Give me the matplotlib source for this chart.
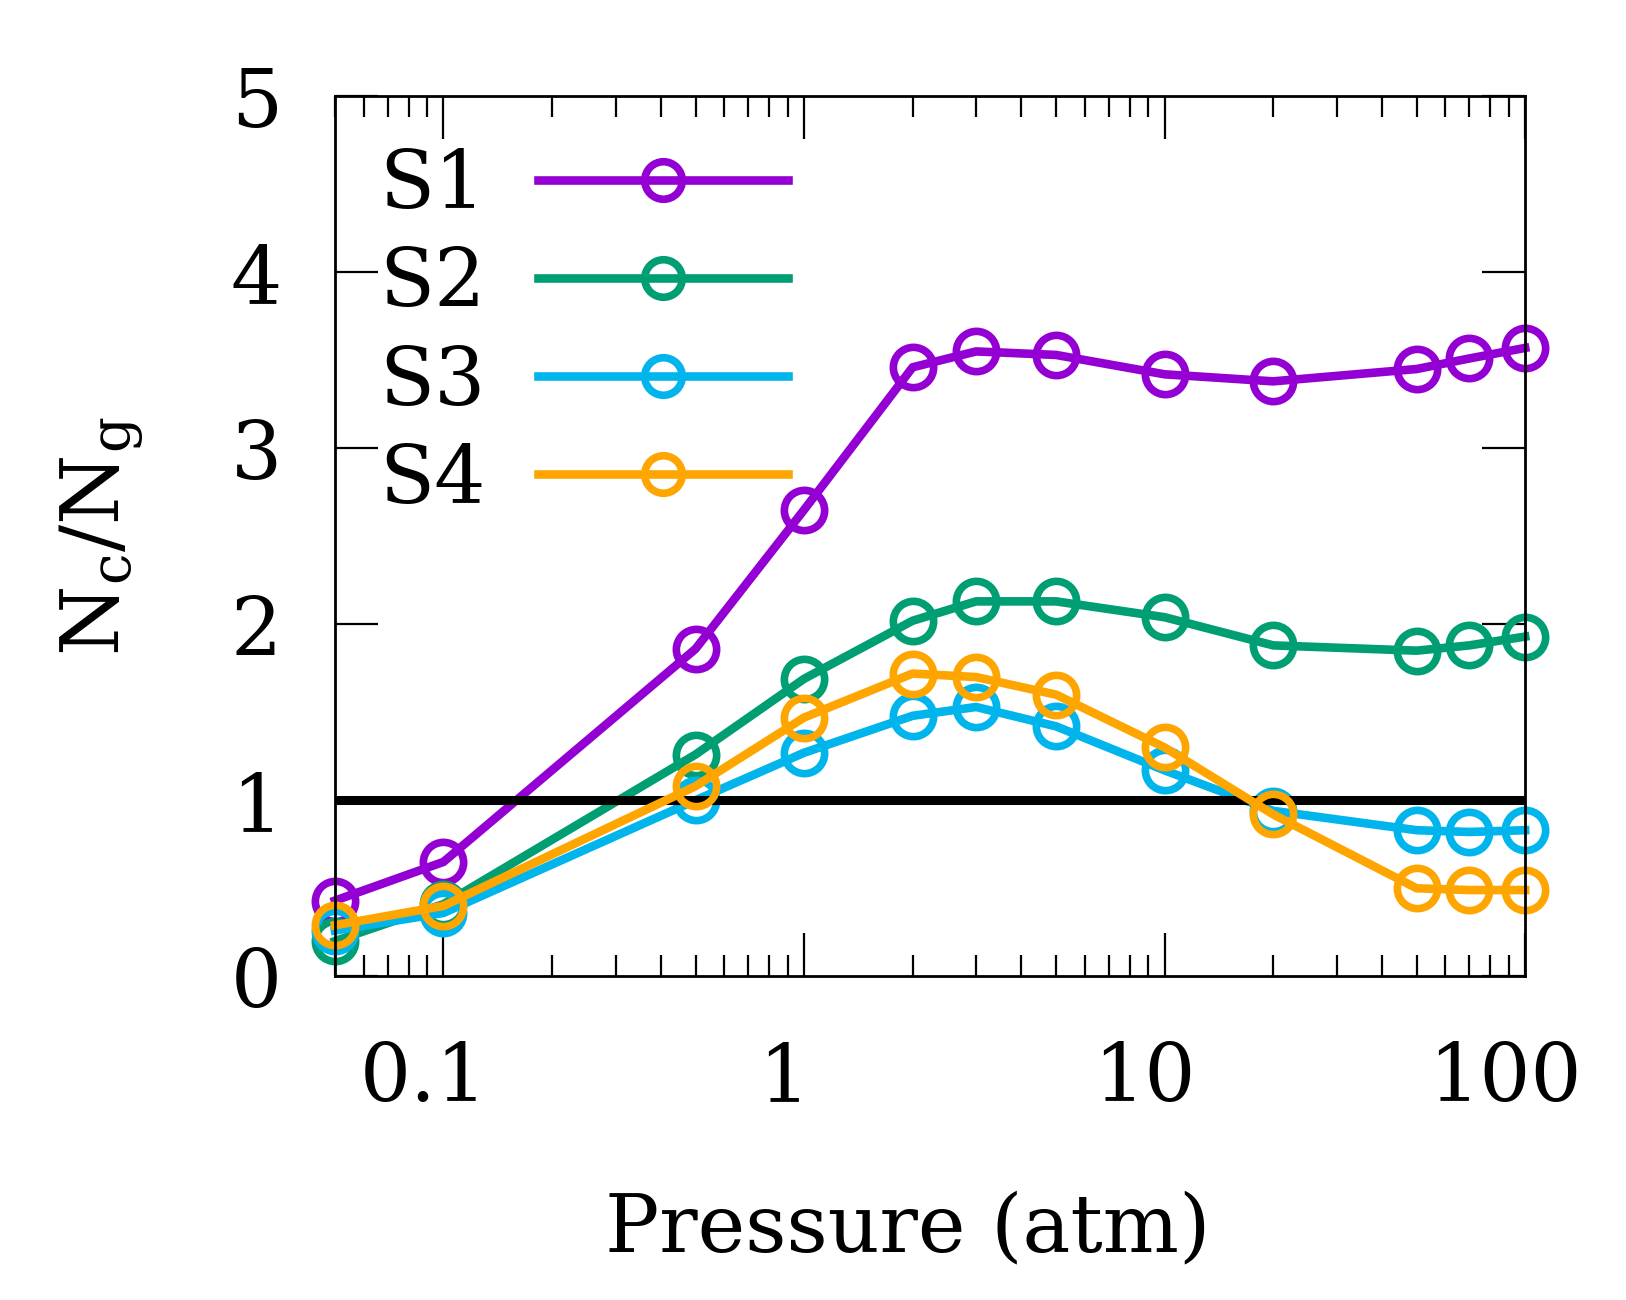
import matplotlib
matplotlib.use("Agg")
import matplotlib.pyplot as plt
import matplotlib.transforms as mtransforms
from matplotlib.ticker import LogLocator, FixedLocator, NullFormatter, FixedFormatter

plt.rcParams['font.family'] = ['DejaVu Serif']
plt.rcParams['mathtext.fontset'] = 'dejavuserif'

pressure = [0.05, 0.1, 0.5, 1, 2, 3, 5, 10, 20, 50, 70, 100]
s1 = [0.43, 0.65, 1.86, 2.65, 3.46, 3.55, 3.53, 3.42, 3.38, 3.45, 3.51, 3.57]
s2 = [0.20, 0.41, 1.26, 1.69, 2.02, 2.13, 2.13, 2.04, 1.88, 1.85, 1.88, 1.93]
s3 = [0.26, 0.36, 1.00, 1.27, 1.48, 1.53, 1.42, 1.17, 0.94, 0.83, 0.82, 0.83]
s4 = [0.29, 0.40, 1.08, 1.47, 1.72, 1.70, 1.60, 1.30, 0.92, 0.50, 0.49, 0.49]
series_names = ['S1', 'S2', 'S3', 'S4']
series_colors = ['#9400D3', '#009E73', '#00B4EC', '#FFA500']
reference_level = 1.0
xticks = [0.1, 1, 10, 100]
xtick_labels = ['0.1', '1', '10', '100']
yticks = [0, 1, 2, 3, 4, 5]
ytick_labels = ['0', '1', '2', '3', '4', '5']

fig = plt.figure(figsize=(16.26, 13), dpi=100)
ax = fig.add_axes([0.206, 0.249, 0.732, 0.677])

ax.set_xscale('log')
ax.set_xlim(0.05, 100)
ax.set_ylim(0, 5)

zorders = [2.1, 2.2, 2.3, 2.5]
for vals, name, col, z in zip([s1, s2, s3, s4], series_names, series_colors, zorders):
    ax.plot(pressure, vals, color=col, lw=6.2, marker='o', ms=29, mew=5.5,
            mfc='none', mec=col, label=name, clip_on=False, zorder=z)

ax.axhline(reference_level, color='black', lw=6.5, zorder=2.4)

ax.xaxis.set_major_locator(FixedLocator(xticks))
ax.xaxis.set_major_formatter(FixedFormatter(xtick_labels))
ax.xaxis.set_minor_locator(LogLocator(base=10, subs=range(2, 10), numticks=20))
ax.xaxis.set_minor_formatter(NullFormatter())
ax.yaxis.set_major_locator(FixedLocator(yticks))
ax.yaxis.set_major_formatter(FixedFormatter(ytick_labels))

ax.tick_params(axis='both', which='major', direction='in', top=True, right=True,
               length=31, width=1.6, labelsize=58, color='black')
ax.tick_params(axis='x', which='minor', direction='in', top=True, bottom=True,
               length=15, width=1.6)
ax.tick_params(axis='x', which='major', pad=46)
ax.tick_params(axis='y', which='major', pad=38)

for sp in ax.spines.values():
    sp.set_linewidth(2)

offset = mtransforms.ScaledTranslation(-20 / 100, 0, fig.dpi_scale_trans)
for lab in ax.get_xticklabels():
    lab.set_transform(lab.get_transform() + offset)

ax.set_xlabel('Pressure (atm)', fontsize=58)
ax.set_ylabel(r'$\mathrm{N_c/N_g}$', fontsize=58)
ax.xaxis.set_label_coords(0.5 - 22 / 1190, -0.243)
ax.yaxis.set_label_coords(-0.16, 0.5)

leg = ax.legend(loc='upper left', bbox_to_anchor=(0.037, 0.942), frameon=False,
                markerfirst=False, numpoints=1, fontsize=58, handlelength=3.1,
                handletextpad=0.65, labelspacing=0.25, borderpad=0, borderaxespad=0)
for h in leg.legend_handles:
    h.set_markersize(27)

fig.savefig('out.png', dpi=100, facecolor='white')
